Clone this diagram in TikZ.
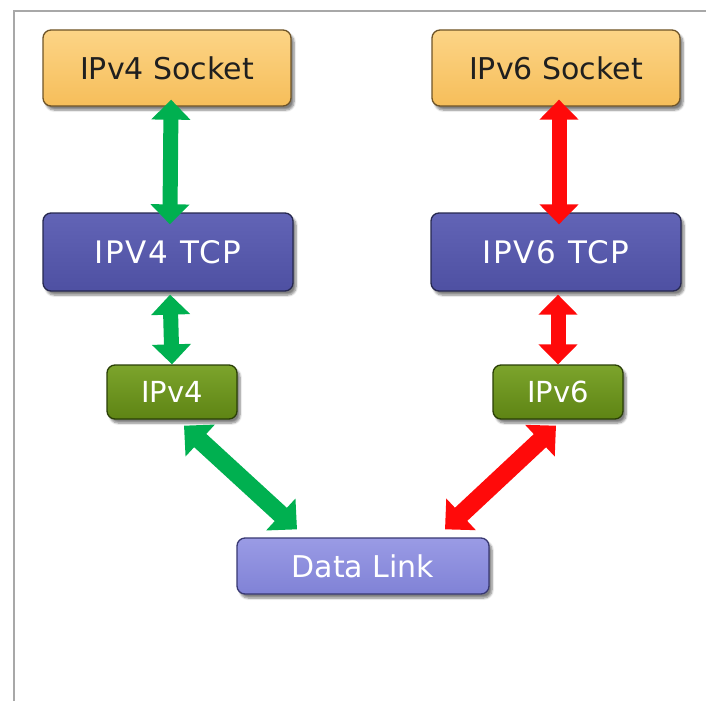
\documentclass[tikz,border=0pt]{standalone}
\usepackage{fontspec}
\setmainfont{DejaVu Sans}
\usetikzlibrary{arrows.meta,shadows.blur,calc}
\definecolor{sockTop}{HTML}{FCD486}
\definecolor{sockBot}{HTML}{F6BE5A}
\definecolor{sockLine}{HTML}{6E5428}
\definecolor{tcpTop}{HTML}{6264B6}
\definecolor{tcpBot}{HTML}{4E50A2}
\definecolor{tcpLine}{HTML}{26284F}
\definecolor{ipTop}{HTML}{7CA42C}
\definecolor{ipBot}{HTML}{5E8414}
\definecolor{ipLine}{HTML}{2A3F06}
\definecolor{dlTop}{HTML}{9A9BE5}
\definecolor{dlBot}{HTML}{8082D6}
\definecolor{dlLine}{HTML}{383872}
\definecolor{arrGreen}{HTML}{00B050}
\definecolor{arrRed}{HTML}{FF0A0A}
\definecolor{frameGray}{HTML}{A8A8A8}
\begin{document}
\begin{tikzpicture}[x=1pt,y=-1pt,
  box/.style={rounded corners=8pt, inner sep=0pt, line width=1.3pt,
    blur shadow={shadow xshift=3pt, shadow yshift=-4pt, shadow blur steps=6, shadow opacity=50},
    font=\fontsize{30}{36}\selectfont},
  sockbox/.style={box, top color=sockTop, bottom color=sockBot, draw=sockLine,
    minimum width=248pt, minimum height=76pt, text=black!88},
  tcpbox/.style={box, top color=tcpTop, bottom color=tcpBot, draw=tcpLine,
    minimum width=250pt, minimum height=78pt, text=white,
    font=\fontsize{31}{36}\selectfont\addfontfeature{LetterSpace=6}},
  ipbox/.style={box, top color=ipTop, bottom color=ipBot, draw=ipLine,
    minimum width=130pt, minimum height=54pt, text=white, font=\fontsize{29}{34}\selectfont},
  dlbox/.style={box, top color=dlTop, bottom color=dlBot, draw=dlLine,
    minimum width=252pt, minimum height=56pt, text=white},
  vline/.style={line width=15pt, {Triangle[width=38pt,length=20pt]}-{Triangle[width=38pt,length=20pt]}},
  dline/.style={line width=18pt, {Triangle[width=42pt,length=22pt]}-{Triangle[width=42pt,length=22pt]}}
]
\useasboundingbox (0,0) rectangle (706,701);
\draw[frameGray, line width=1.2pt] (14,701) -- (14,11) -- (706,11);

\node[sockbox] (s4) at (167,68) {IPv4 Socket};
\node[sockbox] (s6) at (556,68) {IPv6 Socket};
\node[tcpbox] (t4) at (168,252) {IPV4 TCP};
\node[tcpbox] (t6) at (556,252) {IPV6 TCP};
\node[ipbox] (i4) at (172,392) {IPv4};
\node[ipbox] (i6) at (558,392) {IPv6};
\node[dlbox] (dl) at (363,566) {Data Link};

\coordinate (g1) at ($(i4.south)+(12,6)$);
\coordinate (g2) at ($(dl.north)+(-66,-8)$);
\coordinate (r1) at ($(i6.south)+(-2,6)$);
\coordinate (r2) at ($(dl.north)+(82,-8)$);

\draw[vline, arrGreen, shorten <=-7pt, shorten >=-12pt] ([xshift=4pt]s4.south) -- ([xshift=2pt]t4.north);
\draw[vline, arrGreen, shorten <=3pt] ([xshift=2pt]t4.south) -- (i4.north);
\draw[vline, arrRed, shorten <=-7pt, shorten >=-12pt] ([xshift=3pt]s6.south) -- ([xshift=3pt]t6.north);
\draw[vline, arrRed, shorten <=3pt] ([xshift=2pt]t6.south) -- ([xshift=0pt]i6.north);
\draw[dline, arrGreen] (g1) -- (g2);
\draw[dline, arrRed] (r1) -- (r2);
\end{tikzpicture}
\end{document}
